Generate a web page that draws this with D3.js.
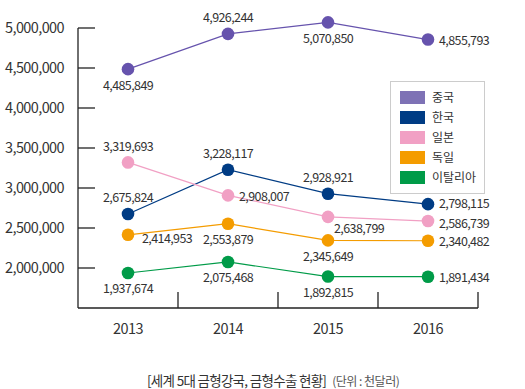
<!DOCTYPE html>
<html>
<head>
<meta charset="utf-8">
<script src="https://cdn.jsdelivr.net/npm/d3@7"></script>
<style>
  body { margin: 0; background: #fff; }
  text { font-family: "Noto Sans CJK KR", "Noto Sans", sans-serif; fill: #333; }
</style>
</head>
<body>
<script>
var years = ["2013", "2014", "2015", "2016"];
var countries = ["중국", "한국", "일본", "독일", "이탈리아"];
var china = [4485849, 4926244, 5070850, 4855793];
var korea = [2675824, 3228117, 2928921, 2798115];
var japan = [3319693, 2908007, 2638799, 2586739];
var germany = [2414953, 2553879, 2345649, 2340482];
var italy = [1937674, 2075468, 1892815, 1891434];
var yTicks = [2000000, 2500000, 3000000, 3500000, 4000000, 4500000, 5000000];
var caption = "[세계 5대 금형강국, 금형수출 현황]";
var unit = "(단위 : 천달러)";

var series = [china, korea, japan, germany, italy];
var colors = ["#6653ad", "#003c84", "#f1a0c4", "#f49c00", "#009b48"];
var legendColors = ["#7e72b5", "#003c84", "#f1a0c4", "#f49c00", "#009b48"];
// where each value label sits relative to its marker
var labelPos = [
    ["below", "above", "below", "right"],
    ["above", "above", "above", "rightup"],
    ["above", "right", "belowright", "rightdown"],
    ["rightlow", "below", "below", "right"],
    ["below", "below", "below", "right"]
];

var w = 525, h = 389;
var fmt = d3.format(",");

var svg = d3.select("body").append("svg")
    .attr("width", w)
    .attr("height", h);

var x = d3.scaleBand().domain(years).range([78, 478]);
var y = d3.scaleLinear().domain([1500000, 5000000]).range([308, 28]);

// y axis
var yAxis = svg.append("g").attr("transform", "translate(78,0)");
yAxis.append("line").attr("x1", 0).attr("x2", 0).attr("y1", y(5000000)).attr("y2", y.range()[0])
    .attr("stroke", "#222").attr("stroke-width", 1.3);
yAxis.selectAll(".tk").data(yTicks).enter().append("line")
    .attr("x1", 0).attr("x2", 17)
    .attr("y1", function(d) { return y(d); }).attr("y2", function(d) { return y(d); })
    .attr("stroke", "#222").attr("stroke-width", 1.3);
yAxis.selectAll(".lb").data(yTicks).enter().append("text")
    .attr("x", -14).attr("y", function(d) { return y(d); })
    .attr("dy", "0.35em").attr("text-anchor", "end")
    .style("font-size", "14.5px").style("letter-spacing", "-0.6px")
    .text(function(d) { return fmt(d); });

// x axis
var xAxis = svg.append("g").attr("transform", "translate(0," + y.range()[0] + ")");
xAxis.append("line").attr("x1", 78).attr("x2", 478).attr("y1", 0).attr("y2", 0)
    .attr("stroke", "#222").attr("stroke-width", 1.3);
xAxis.selectAll(".tk").data(years.slice(1).concat(["end"])).enter().append("line")
    .attr("x1", function(d) { return d == "end" ? 478 : x(d); })
    .attr("x2", function(d) { return d == "end" ? 478 : x(d); })
    .attr("y1", 0).attr("y2", -16)
    .attr("stroke", "#222").attr("stroke-width", 1.3);
xAxis.selectAll(".lb").data(years).enter().append("text")
    .attr("x", function(d) { return x(d) + x.bandwidth() / 2; })
    .attr("y", 21).attr("dy", "0.35em").attr("text-anchor", "middle")
    .style("font-size", "14.5px").style("letter-spacing", "-0.6px")
    .text(function(d) { return d; });

var cx = function(i) { return x(years[i]) + x.bandwidth() / 2; };

var line = d3.line()
    .x(function(d, i) { return cx(i); })
    .y(function(d) { return y(d); });

series.forEach(function(s, k) {
    svg.append("path").datum(s)
        .attr("d", line)
        .attr("fill", "none")
        .attr("stroke", colors[k])
        .attr("stroke-width", 1.2);
});

series.forEach(function(s, k) {
    var g = svg.append("g");
    g.selectAll("circle").data(s).enter().append("circle")
        .attr("cx", function(d, i) { return cx(i); })
        .attr("cy", function(d) { return y(d); })
        .attr("r", 6.3)
        .attr("fill", colors[k]);
    g.selectAll("text").data(s).enter().append("text")
        .each(function(d, i) {
            var p = labelPos[k][i], t = d3.select(this);
            var px = cx(i), py = y(d), anchor = "middle";
            if (p == "above") py -= 16;
            else if (p == "below") py += 16;
            else if (p == "right") { px += 11; anchor = "start"; py += 1; }
            else if (p == "rightup") { px += 11; anchor = "start"; py -= 1; }
            else if (p == "rightdown") { px += 11; anchor = "start"; py += 3; }
            else if (p == "belowright") { px += 6; anchor = "start"; py += 12; }
            else if (p == "rightlow") { px += 14; anchor = "start"; py += 4; }
            t.attr("x", px).attr("y", py).attr("dy", "0.35em")
                .attr("text-anchor", anchor);
        })
        .style("font-size", "12.5px").style("letter-spacing", "-0.6px")
        .text(function(d) { return fmt(d); });
});

// legend
var lg = svg.append("g").attr("transform", "translate(390,81)");
lg.append("rect").attr("x", 0.5).attr("y", 0.5).attr("width", 94).attr("height", 112)
    .attr("fill", "#fff").attr("stroke", "#ccc");
var item = lg.selectAll(".it").data(countries).enter().append("g")
    .attr("transform", function(d, i) { return "translate(10," + (10 + i * 20) + ")"; });
item.append("rect").attr("width", 25).attr("height", 13)
    .attr("fill", function(d, i) { return legendColors[i]; });
item.append("text").attr("x", 32).attr("y", 6.5).attr("dy", "0.35em")
    .style("font-size", "12px")
    .text(function(d) { return d; });

// caption
var cap = svg.append("text").attr("x", 147).attr("y", 380).attr("dy", "0.35em");
cap.append("tspan").style("font-size", "13.5px").style("letter-spacing", "-0.7px").text(caption);
cap.append("tspan").attr("dx", 6).style("font-size", "12px").style("fill", "#555")
    .style("letter-spacing", "-0.5px").text(unit);
</script>
</body>
</html>
